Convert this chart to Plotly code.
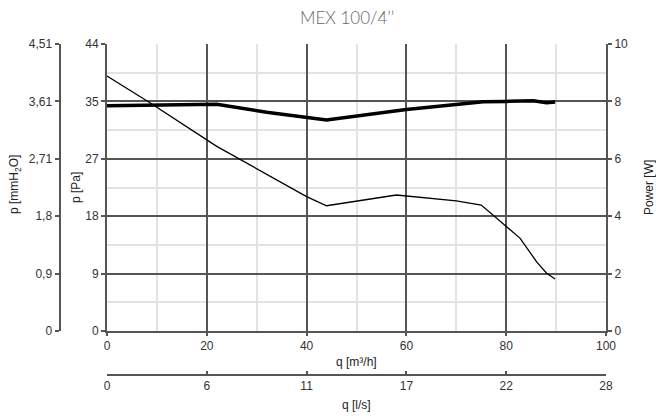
import plotly.graph_objects as go

# ---- data ----
q_pressure = [0, 8.6, 20, 22, 40, 44, 58, 60, 70, 75, 79.4, 82.8, 86.1, 88.1, 89.8]
p_pa = [39.1, 35.0, 29.3, 28.3, 20.6, 19.2, 20.85, 20.7, 19.95, 19.3, 16.5, 14.2, 10.6, 8.85, 7.97]

q_power = [0, 10, 22, 32, 44, 60, 70, 75.4, 80, 85.4, 88.1, 89.8]
power_w = [7.85, 7.88, 7.9, 7.62, 7.35, 7.72, 7.9, 7.99, 8.0, 8.02, 7.95, 7.98]

pa_ticktext = ["0", "9", "18", "27", "35", "44"]
mm_ticktext = ["0", "0,9", "1,8", "2,71", "3,61", "4,51"]
ls_ticktext = ["0", "6", "11", "17", "22", "28"]
q_max = 100
pa_max = 44
mm_max = 4.51
ls_max = q_max / 3.6
w_max = 10

# page body margin is removed by post_script, so screen pixels == figure pixels
OFF = 0
W, H = 656, 416
ML, MR, MT, MB = 20, 50, 44, 20
PW = W - ML - MR
PH = H - MT - MB

def px(s):
    return (s - OFF - ML) / PW

def py(s):
    return (H - MB - (s - OFF)) / PH

AX = "#555555"
MINOR = "#e3e3e3"
TICKFONT = dict(family="Liberation Sans, Arial, sans-serif", size=12, color="#333333")

fig = go.Figure()
fig.add_trace(go.Scatter(x=q_pressure, y=p_pa, mode="lines", xaxis="x", yaxis="y",
                         line=dict(color="black", width=1.3), showlegend=False, hoverinfo="skip"))
fig.add_trace(go.Scatter(x=q_power, y=power_w, mode="lines", xaxis="x", yaxis="y3",
                         line=dict(color="black", width=3.5), showlegend=False, hoverinfo="skip"))
# helper traces so the extra axes are drawn
fig.add_trace(go.Scatter(x=[None], y=[None], xaxis="x", yaxis="y2", showlegend=False, hoverinfo="skip"))
fig.add_trace(go.Scatter(x=[None], y=[None], xaxis="x2", yaxis="y", showlegend=False, hoverinfo="skip"))

x0 = px(107)
x1 = px(606)
y0 = py(331)
y1 = py(44)

fig.update_layout(
    width=W, height=H,
    margin=dict(l=ML, r=MR, t=MT, b=MB, autoexpand=False),
    paper_bgcolor="white", plot_bgcolor="white",
    showlegend=False,
    xaxis=dict(domain=[x0, x1], range=[0, q_max], anchor="y",
               tickvals=[0, 20, 40, 60, 80, 100], ticks="outside", ticklen=3, tickwidth=2, tickcolor=AX,
               showline=True, linecolor=AX, linewidth=2,
               showgrid=True, gridcolor=AX, gridwidth=2,
               minor=dict(tick0=0, dtick=10, showgrid=True, gridcolor=MINOR, gridwidth=2),
               zeroline=False, tickfont=TICKFONT, fixedrange=True, automargin=False),
    xaxis2=dict(domain=[x0, x1], range=[0, ls_max], anchor="free", position=py(374.5),
                overlaying="x", side="bottom",
                tickvals=[ls_max * k / 5 for k in range(6)], ticktext=ls_ticktext,
                ticks="inside", ticklen=3, tickwidth=2, tickcolor=AX,
                showline=True, linecolor=AX, linewidth=2, showgrid=False, zeroline=False,
                tickfont=TICKFONT, fixedrange=True, automargin=False),
    yaxis=dict(domain=[y0, y1], range=[0, pa_max], anchor="x",
               tickvals=[pa_max * k / 5 for k in range(6)], ticktext=pa_ticktext,
               ticks="outside", ticklen=4, tickwidth=2, tickcolor=AX,
               showline=True, linecolor=AX, linewidth=2, showgrid=False, zeroline=False,
               tickfont=TICKFONT, fixedrange=True, automargin=False),
    yaxis2=dict(domain=[y0, y1], range=[0, mm_max], anchor="free", position=px(59.5),
                overlaying="y", side="left",
                tickvals=[mm_max * k / 5 for k in range(6)], ticktext=mm_ticktext,
                ticks="outside", ticklen=4, tickwidth=2, tickcolor=AX,
                showline=True, linecolor=AX, linewidth=2, showgrid=False, zeroline=False,
                tickfont=TICKFONT, fixedrange=True, automargin=False),
    yaxis3=dict(domain=[y0, y1], range=[0, w_max], anchor="x", overlaying="y", side="right",
                tickvals=[0, 2, 4, 6, 8, 10], ticks="outside", ticklen=4, tickwidth=2, tickcolor=AX,
                showline=True, linecolor=AX, linewidth=2,
                showgrid=True, gridcolor=AX, gridwidth=2,
                minor=dict(tick0=0, dtick=1, showgrid=True, gridcolor=MINOR, gridwidth=2),
                zeroline=False, tickfont=TICKFONT, fixedrange=True, automargin=False),
)

LABELFONT = dict(family="Liberation Sans, Arial, sans-serif", size=12, color="#222222")
ann = [
    dict(text="MEX 100/4’’", x=px(347), y=py(17),
         font=dict(family="Lato, Open Sans, sans-serif", size=17, color="#666666", weight=300)),
    dict(text="p [mmH<sub>2</sub>O]", x=px(15), y=py(185), textangle=-90, font=LABELFONT),
    dict(text="p [Pa]", x=px(76), y=py(188), textangle=-90, font=LABELFONT),
    dict(text="Power [W]", x=px(649), y=py(188), textangle=-90, font=LABELFONT),
    dict(text="q [m³/h]", x=px(356), y=py(362), font=LABELFONT),
    dict(text="q [l/s]", x=px(356), y=py(405), font=LABELFONT),
]
for a in ann:
    a.update(xref="paper", yref="paper", showarrow=False, xanchor="center", yanchor="middle")
fig.update_layout(annotations=ann)

fig.write_html("out.html",
               config={"displayModeBar": False, "staticPlot": True},
               post_script="document.body.style.margin='0';document.body.style.overflow='hidden';")
